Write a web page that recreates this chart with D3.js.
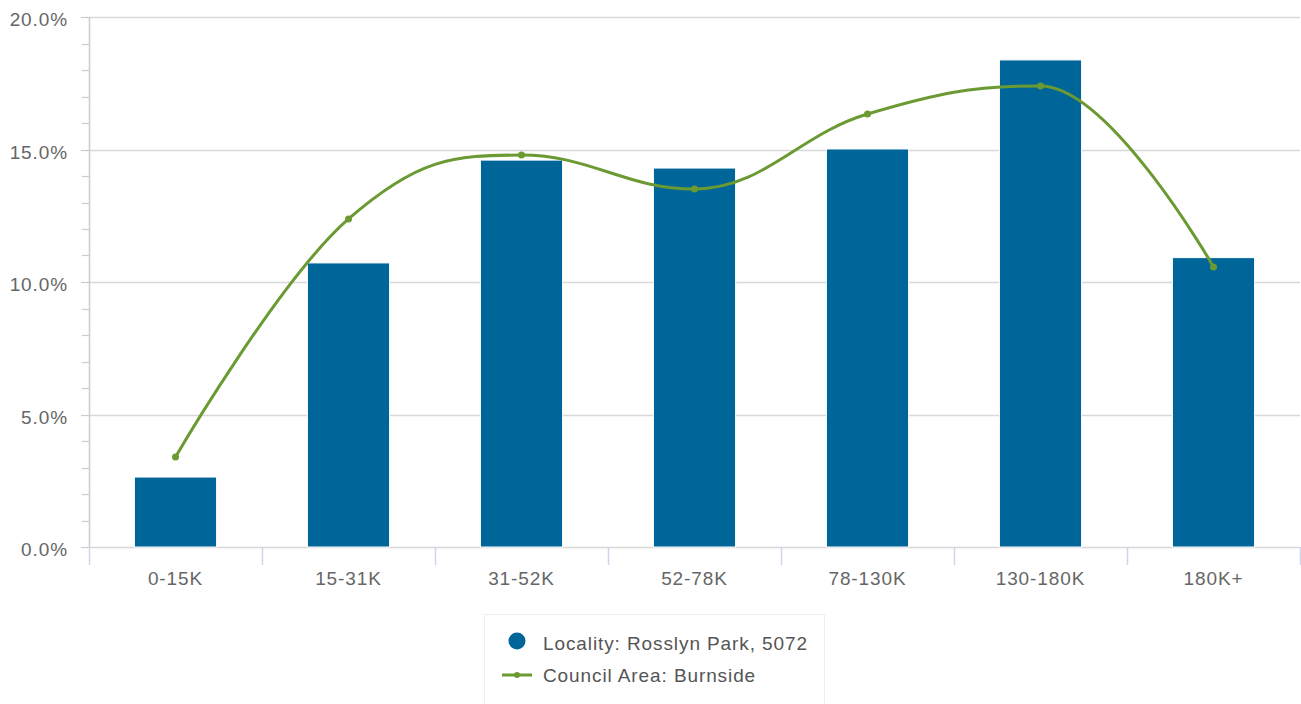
<!DOCTYPE html>
<html><head><meta charset="utf-8">
<script src="https://cdn.jsdelivr.net/npm/d3@7"></script>
<style>
html,body{margin:0;padding:0;background:#fff;}
svg{display:block;font-family:"Liberation Sans",Arial,Helvetica,sans-serif;}
svg text{letter-spacing:0.9px;}
</style></head>
<body><svg id="c" width="1301" height="704"></svg>
<script>
const categories = ["0-15K","15-31K","31-52K","52-78K","78-130K","130-180K","180K+"];
const localityValues = [2.64, 10.72, 14.6, 14.3, 15.02, 18.38, 10.92];
const councilValues = [3.4, 12.38, 14.79, 13.51, 16.34, 17.4, 10.57];
const yTicks = [0, 5, 10, 15, 20];
const seriesNames = ["Locality: Rosslyn Park, 5072", "Council Area: Burnside"];
const barColor = "#006699", lineColor = "#6a9a31";

const svg = d3.select("#c");
const pLeft = 89, pRight = 1300, pTop = 17, pBottom = 547;
const fs = 19;
const x = d3.scaleBand().domain(categories).range([pLeft, pRight]).paddingInner(0).paddingOuter(0);
const y = d3.scaleLinear().domain([0, 20]).range([pBottom, pTop]);

// grid lines
svg.append("g").selectAll("line").data(yTicks).join("line")
  .attr("x1", pLeft).attr("x2", pRight)
  .attr("y1", d => Math.round(y(d)) + 0.5).attr("y2", d => Math.round(y(d)) + 0.5)
  .attr("stroke", "#d8d8d8").attr("stroke-width", 1.5);

// y axis line
svg.append("line").attr("x1", pLeft + 0.5).attr("x2", pLeft + 0.5).attr("y1", pTop).attr("y2", pBottom)
  .attr("stroke", "#cccccc").attr("stroke-width", 1.5);

// minor ticks
const minor = d3.range(0, 20.001, 1).filter(v => v % 5 !== 0);
svg.append("g").selectAll("line").data(minor).join("line")
  .attr("x1", pLeft - 7).attr("x2", pLeft)
  .attr("y1", d => Math.round(y(d)) + 0.5).attr("y2", d => Math.round(y(d)) + 0.5)
  .attr("stroke", "#cccccc").attr("stroke-width", 1.2);
// major ticks
svg.append("g").selectAll("line").data(yTicks).join("line")
  .attr("x1", pLeft - 8).attr("x2", pLeft)
  .attr("y1", d => Math.round(y(d)) + 0.5).attr("y2", d => Math.round(y(d)) + 0.5)
  .attr("stroke", "#cccccc").attr("stroke-width", 1.2);

// y labels
svg.append("g").selectAll("text").data(yTicks).join("text")
  .attr("x", 68).attr("y", d => y(d) + 9)
  .attr("text-anchor", "end").attr("font-size", fs).attr("fill", "#666")
  .text(d => d3.format(".1f")(d) + "%");

// x ticks at boundaries
const bounds = categories.map(c => x(c)).concat([pRight]);
svg.append("g").selectAll("line").data(bounds).join("line")
  .attr("x1", d => Math.round(d) + 0.5).attr("x2", d => Math.round(d) + 0.5)
  .attr("y1", pBottom).attr("y2", pBottom + 18)
  .attr("stroke", "#ccd6eb").attr("stroke-width", 1.5);

// x labels
svg.append("g").selectAll("text").data(categories).join("text")
  .attr("x", d => x(d) + x.bandwidth() / 2).attr("y", 585)
  .attr("text-anchor", "middle").attr("font-size", fs).attr("fill", "#666")
  .text(d => d);

// bars
const bw = x.bandwidth() * 0.475;
svg.append("g").selectAll("rect").data(localityValues).join("rect")
  .attr("x", (d, i) => x(categories[i]) + (x.bandwidth() - bw) / 2)
  .attr("y", d => y(d))
  .attr("width", bw).attr("height", d => pBottom - y(d))
  .attr("fill", barColor).attr("stroke", "#ffffff").attr("stroke-width", 1);

// Highcharts-style spline
const pts = councilValues.map((v, i) => [x(categories[i]) + x.bandwidth() / 2, y(v)]);
function splinePath(p) {
  const s = 1.5, den = s + 1;
  const ctrl = p.map(() => ({}));
  for (let i = 1; i < p.length - 1; i++) {
    const [px, py] = p[i], [lx, ly] = p[i - 1], [nx, ny] = p[i + 1];
    let lcx = (s * px + lx) / den, lcy = (s * py + ly) / den;
    let rcx = (s * px + nx) / den, rcy = (s * py + ny) / den;
    const corr = ((rcy - lcy) * (rcx - px)) / (rcx - lcx) + py - rcy;
    lcy += corr; rcy += corr;
    if (lcy > ly && lcy > py) { lcy = Math.max(ly, py); rcy = 2 * py - lcy; }
    else if (lcy < ly && lcy < py) { lcy = Math.min(ly, py); rcy = 2 * py - lcy; }
    if (rcy > ny && rcy > py) { rcy = Math.max(ny, py); lcy = 2 * py - rcy; }
    else if (rcy < ny && rcy < py) { rcy = Math.min(ny, py); lcy = 2 * py - rcy; }
    ctrl[i] = { lcx, lcy, rcx, rcy };
  }
  const path = d3.path();
  path.moveTo(p[0][0], p[0][1]);
  for (let i = 1; i < p.length; i++) {
    const prev = ctrl[i - 1], cur = ctrl[i];
    const c1x = prev.rcx !== undefined ? prev.rcx : p[i - 1][0];
    const c1y = prev.rcy !== undefined ? prev.rcy : p[i - 1][1];
    const c2x = cur.lcx !== undefined ? cur.lcx : p[i][0];
    const c2y = cur.lcy !== undefined ? cur.lcy : p[i][1];
    path.bezierCurveTo(c1x, c1y, c2x, c2y, p[i][0], p[i][1]);
  }
  return path.toString();
}
svg.append("path").attr("d", splinePath(pts))
  .attr("fill", "none").attr("stroke", lineColor).attr("stroke-width", 3)
  .attr("stroke-linejoin", "round").attr("stroke-linecap", "round");
svg.append("g").selectAll("circle").data(pts).join("circle")
  .attr("cx", d => d[0]).attr("cy", d => d[1]).attr("r", 3.5).attr("fill", lineColor);

// legend
const lg = svg.append("g");
lg.append("rect").attr("x", 484.5).attr("y", 614.5).attr("width", 340).attr("height", 100)
  .attr("fill", "#fff").attr("stroke", "#eeeeee").attr("stroke-width", 1);
lg.append("circle").attr("cx", 517).attr("cy", 641).attr("r", 8.5).attr("fill", barColor);
lg.append("text").attr("x", 543).attr("y", 650).attr("font-size", fs).attr("fill", "#555").text(seriesNames[0]);
lg.append("line").attr("x1", 502).attr("x2", 532).attr("y1", 675).attr("y2", 675)
  .attr("stroke", lineColor).attr("stroke-width", 3);
lg.append("circle").attr("cx", 517).attr("cy", 675).attr("r", 3).attr("fill", lineColor);
lg.append("text").attr("x", 543).attr("y", 682).attr("font-size", fs).attr("fill", "#555").text(seriesNames[1]);
</script></body></html>
